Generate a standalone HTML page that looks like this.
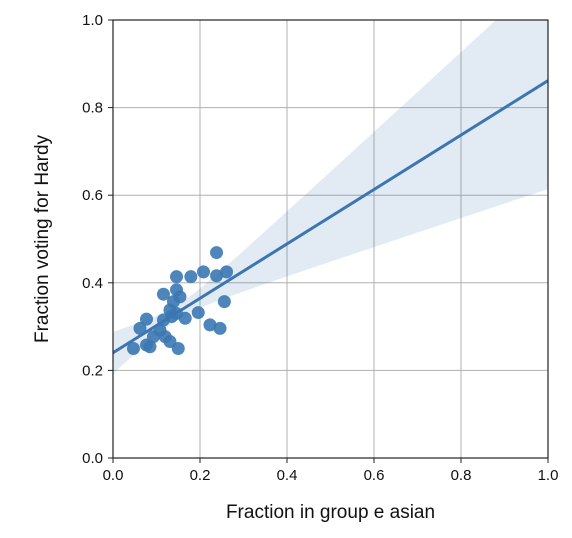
<!DOCTYPE html>
<html><head><meta charset="utf-8"><style>
body{margin:0;background:#fff;}
svg{display:block;font-family:"Liberation Sans",sans-serif;}
</style></head><body>
<svg id="chart" width="572" height="538"></svg>
<script>
const xs=[.238,.146,.179,.208,.238,.261,.116,.146,.154,.256,.196,.131,.146,.166,.077,.116,.223,.246,.062,.108,.093,.120,.131,.077,.047,.085,.150,.135,.139];
const ys=[.469,.414,.414,.425,.416,.425,.374,.384,.368,.357,.332,.338,.330,.319,.317,.315,.304,.296,.296,.292,.277,.277,.266,.258,.250,.254,.250,.323,.357];
const xTicks=[0,0.2,0.4,0.6,0.8,1.0];
const yTicks=[0,0.2,0.4,0.6,0.8,1.0];
const tickLabels=["0.0","0.2","0.4","0.6","0.8","1.0"];
const L=113,R=548,T=20,B=458;
const sx=v=>L+v*(R-L), sy=v=>B-v*(B-T);
const svg=document.getElementById('chart');const NS="http://www.w3.org/2000/svg";
function mk(t,a,p){const e=document.createElementNS(NS,t);for(const k in a)e.setAttribute(k,a[k]);(p||svg).appendChild(e);return e;}
const clip=mk('clipPath',{id:'c'});mk('rect',{x:L,y:T,width:R-L,height:B-T},clip);
xTicks.forEach((v,i)=>{
 const g=mk('line',{x1:sx(v),x2:sx(v),y1:T,y2:B,stroke:'#b0b0b0','stroke-width':1});
 
 const t=mk('text',{x:sx(v),y:B+22,'text-anchor':'middle','font-size':15,fill:'#111'});t.textContent=tickLabels[i];
 
 mk('line',{x1:sx(v),x2:sx(v),y1:B,y2:B+5,stroke:'#222'});
});
yTicks.forEach((v,i)=>{
 const g=mk('line',{x1:L,x2:R,y1:sy(v),y2:sy(v),stroke:'#b0b0b0','stroke-width':1});
 
 const t=mk('text',{x:L-10,y:sy(v)+5,'text-anchor':'end','font-size':15,fill:'#111'});t.textContent=tickLabels[i];
 
 mk('line',{x1:L-5,x2:L,y1:sy(v),y2:sy(v),stroke:'#222'});
});
const n=xs.length,mx=xs.reduce((a,b)=>a+b)/n,my=ys.reduce((a,b)=>a+b)/n;
let sxx=0,sxy=0;for(let i=0;i<n;i++){sxx+=(xs[i]-mx)**2;sxy+=(xs[i]-mx)*(ys[i]-my);}
const b1=sxy/sxx,b0=my-b1*mx;let sse=0;for(let i=0;i<n;i++)sse+=(ys[i]-b0-b1*xs[i])**2;
const s=Math.sqrt(sse/(n-2)),tv=1.9;
let up=[],lo=[];for(let k=0;k<=100;k++){const x=k/100,yh=b0+b1*x,h=tv*s*Math.sqrt(1/n+(x-mx)**2/sxx);up.push([sx(x),sy(yh+h)]);lo.push([sx(x),sy(yh-h)]);}
const d='M'+up.map(p=>p.join(',')).join('L')+'L'+lo.reverse().map(p=>p.join(',')).join('L')+'Z';
const band=mk('path',{d:d,fill:'#3a76b0','fill-opacity':0.15,'clip-path':'url(#c)'});

xs.forEach((x,i)=>{const c=mk('circle',{cx:sx(x),cy:sy(ys[i]),r:6.5,fill:'#3b78b2','fill-opacity':0.9});
 });
const ln=mk('line',{x1:sx(0),y1:sy(b0),x2:sx(1),y2:sy(b0+b1),stroke:'#3a76b0','stroke-width':3,'clip-path':'url(#c)'});

const fr=mk('rect',{x:L,y:T,width:R-L,height:B-T,fill:'none',stroke:'#222','stroke-width':1.2});

const xt=mk('text',{x:(L+R)/2,y:518,'text-anchor':'middle','font-size':19,fill:'#111'});xt.textContent='Fraction in group e asian';

const yt=mk('text',{x:0,y:0,'text-anchor':'middle','font-size':19,fill:'#111',transform:`translate(48,${(T+B)/2}) rotate(-90)`});yt.textContent='Fraction voting for Hardy';

</script>
</body></html>
